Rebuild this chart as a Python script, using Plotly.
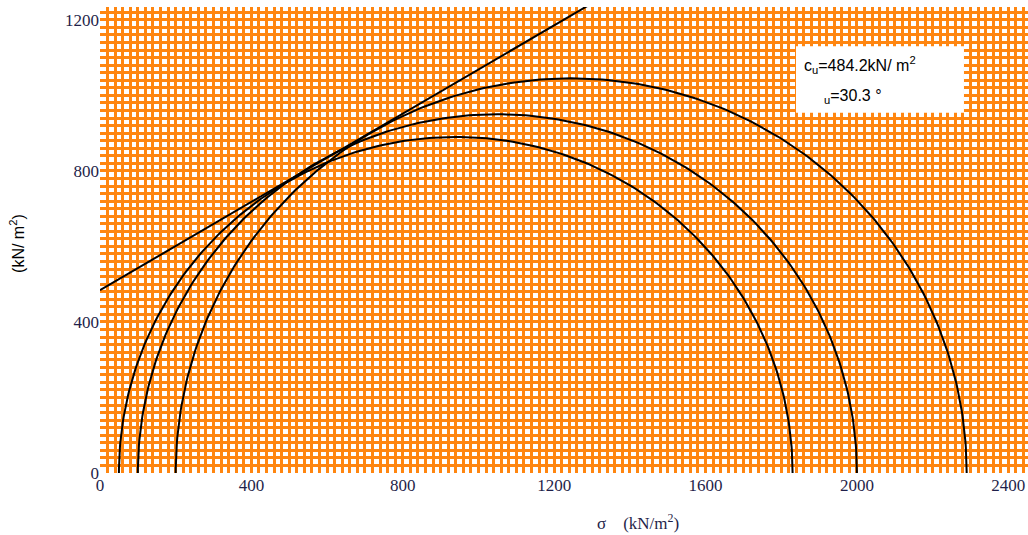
import numpy as np
import plotly.graph_objects as go

# Data
sigma3 = [50, 100, 200]          # minor principal stress (kN/m2)
sigma1 = [1830, 2000, 2290]      # major principal stress (kN/m2)
cu = 484.2                        # cohesion (kN/m2)
phi_u = 30.3                      # friction angle (deg)
x_ticks = [0, 400, 800, 1200, 1600, 2000, 2400]
y_ticks = [0, 400, 800, 1200]

ORANGE = "#FF8610"
TICK_COLOR = "#1f1f4a"

fig = go.Figure()

theta = np.linspace(0, np.pi, 241)
for s3, s1 in zip(sigma3, sigma1):
    c = (s1 + s3) / 2
    r = (s1 - s3) / 2
    fig.add_trace(go.Scatter(x=c + r * np.cos(theta), y=r * np.sin(theta),
                             mode="lines", line=dict(color="black", width=2),
                             hoverinfo="skip", showlegend=False))

env_x = np.array([0, 1400])
env_y = cu + env_x * np.tan(np.radians(phi_u))
fig.add_trace(go.Scatter(x=env_x, y=env_y, mode="lines",
                         line=dict(color="black", width=2),
                         hoverinfo="skip", showlegend=False))

axis_common = dict(
    showgrid=True, gridcolor=ORANGE, gridwidth=2.6,
    zeroline=False, showline=False, ticks="", automargin=False,
    tickfont=dict(family="Liberation Serif", size=17, color=TICK_COLOR),
    minor=dict(dtick=20, showgrid=True, gridcolor=ORANGE, gridwidth=2.6),
)

fig.update_xaxes(range=[0, 2452], tickvals=x_ticks, **axis_common)
fig.update_yaxes(range=[0, 1234], tickvals=y_ticks, **axis_common)

# annotation box
fig.add_shape(type="rect", xref="paper", yref="paper",
              x0=0.75, x1=0.931, y0=0.773, y1=0.916,
              fillcolor="white", line=dict(width=0), layer="above")
fig.add_annotation(xref="paper", yref="paper", x=0.757, y=0.875,
                   xanchor="left", yanchor="middle", showarrow=False,
                   text="c<sub>u</sub>=484.2kN/ m<sup>2</sup>",
                   font=dict(family="Liberation Sans", size=16, color="black"))
fig.add_annotation(xref="paper", yref="paper", x=0.778, y=0.807,
                   xanchor="left", yanchor="middle", showarrow=False,
                   text="<sub>u</sub>=30.3 °",
                   font=dict(family="Liberation Sans", size=16, color="black"))

# axis titles
fig.add_annotation(xref="paper", yref="paper", x=(638 - 100) / 928, y=-0.105,
                   xanchor="center", yanchor="middle", showarrow=False,
                   text="σ　(kN/m<sup>2</sup>)",
                   font=dict(family="Liberation Serif", size=17, color=TICK_COLOR))
fig.add_annotation(xref="paper", yref="paper", x=-0.0895, y=(473 - 243) / 466,
                   xanchor="center", yanchor="middle", showarrow=False,
                   textangle=-90, text="(kN/ m<sup>2</sup>)",
                   font=dict(family="Liberation Sans", size=16, color="black"))

fig.update_layout(
    width=1028, height=535,
    margin=dict(l=100, r=0, t=7, b=62, autoexpand=False),
    plot_bgcolor="white", paper_bgcolor="white",
    showlegend=False,
)

fig.write_html("out.html", config={"displayModeBar": False},
               post_script="document.body.style.margin='0';document.body.style.padding='0';")
